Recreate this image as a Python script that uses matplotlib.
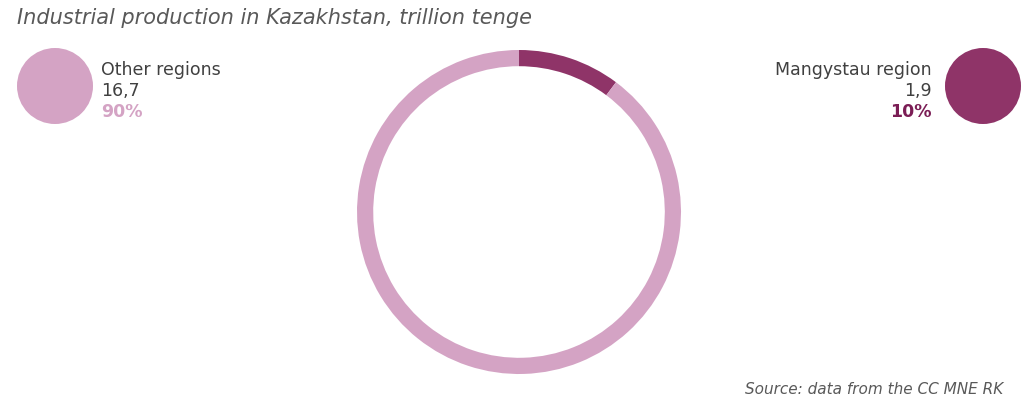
import matplotlib
matplotlib.use("Agg")
import matplotlib.pyplot as plt
from matplotlib.patches import Circle

categories = ["Mangystau region", "Other regions"]
values = [1.9, 16.7]
value_labels = ["1,9", "16,7"]
pct_labels = ["10%", "90%"]
colors = ["#8F3468", "#D4A3C4"]
pct_colors = ["#7B1D55", "#D4A3C4"]
title = "Industrial production in Kazakhstan, trillion tenge"
source = "Source: data from the CC MNE RK"

W, H = 1024, 407
fig = plt.figure(figsize=(W / 100, H / 100), dpi=100)
fig.patch.set_facecolor("white")

# donut
cx, cy, r = 519, 212, 162
ax = fig.add_axes([(cx - r) / W, (H - cy - r) / H, 2 * r / W, 2 * r / H])
ax.pie(values, colors=colors, startangle=90, counterclock=False,
       radius=1.0, wedgeprops=dict(width=0.1, edgecolor="none"))
ax.set_xlim(-1, 1)
ax.set_ylim(-1, 1)
ax.set_aspect("equal")
ax.axis("off")

# overlay axes in pixel coords
ov = fig.add_axes([0, 0, 1, 1], zorder=-1)
ov.set_xlim(0, W)
ov.set_ylim(H, 0)
ov.axis("off")

ov.text(17, 18, title, fontsize=15, style="italic", color="#595959",
        ha="left", va="center", family="DejaVu Sans")

# legend circles
ov.add_patch(Circle((55, 86), 38, color=colors[1], lw=0))
ov.add_patch(Circle((983, 86), 38, color=colors[0], lw=0))

fs = 12.5
ov.text(101, 70, categories[1], fontsize=fs, color="#404040", ha="left", va="center")
ov.text(101, 91, value_labels[1], fontsize=fs, color="#404040", ha="left", va="center")
ov.text(101, 112, pct_labels[1], fontsize=fs, color=pct_colors[1], ha="left",
        va="center", fontweight="bold")

ov.text(932, 70, categories[0], fontsize=fs, color="#404040", ha="right", va="center")
ov.text(932, 91, value_labels[0], fontsize=fs, color="#404040", ha="right", va="center")
ov.text(932, 112, pct_labels[0], fontsize=fs, color=pct_colors[0], ha="right",
        va="center", fontweight="bold")

ov.text(1003, 390, source, fontsize=11, style="italic", color="#595959",
        ha="right", va="center")

fig.savefig("out.png", dpi=100, facecolor="white")
